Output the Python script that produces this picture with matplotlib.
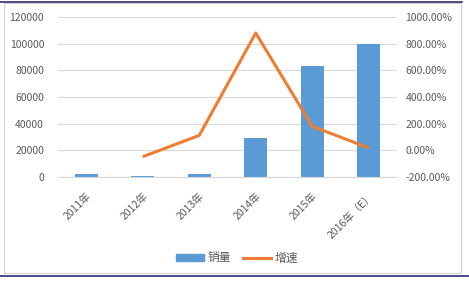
import matplotlib
matplotlib.use("Agg")
from matplotlib import pyplot as plt
from matplotlib.lines import Line2D
from matplotlib.patches import Patch, Rectangle

plt.rcParams['font.family'] = ['Noto Sans CJK SC', 'DejaVu Sans']

years = ['2011年', '2012年', '2013年', '2014年', '2015年', '2016年（E）']
sales = [2200, 1000, 2500, 29500, 83300, 100000]
growth = [None, -48, 112, 880, 180, 18]

bar_color = '#5B9BD5'
line_color = '#ED7D31'
text_color = '#595959'
grid_color = '#D9D9D9'

fig = plt.figure(figsize=(4.69, 2.83), dpi=100)
ax = fig.add_axes([58 / 469, 1 - 177 / 283, 339 / 469, 160 / 283])
ax2 = ax.twinx()

x = list(range(len(years)))
ax.bar(x, sales, width=0.41, color=bar_color, zorder=2)
ax.set_ylim(0, 120000)
ax.set_yticks(range(0, 120001, 20000))
ax.set_xlim(-0.5, len(years) - 0.5)
ax.grid(axis='y', color=grid_color, linewidth=0.8, zorder=0)
ax.set_axisbelow(True)

gx = [i for i, g in zip(x, growth) if g is not None]
gy = [g for g in growth if g is not None]
ax2.plot(gx, gy, color=line_color, linewidth=2.2, solid_capstyle='butt', zorder=3)
ax2.set_ylim(-200, 1000)
ax2.set_yticks(range(-200, 1001, 200))
ax2.set_yticklabels(['%.2f%%' % v for v in range(-200, 1001, 200)])

for a in (ax, ax2):
    for s in a.spines.values():
        s.set_visible(False)
    a.tick_params(length=0, labelsize=7.5, colors=text_color)
ax.spines['bottom'].set_visible(True)
ax.spines['bottom'].set_color(grid_color)
ax.tick_params(axis='y', pad=10)
ax2.tick_params(axis='y', pad=6)

ax.set_xticks(x)
ax.set_xticklabels(years, rotation=45, ha='right', va='top', rotation_mode='anchor')
ax.tick_params(axis='x', pad=10)

handles = [Patch(color=bar_color, label='销量'),
           Line2D([0], [0], color=line_color, linewidth=2.2, label='增速')]
fig.legend(handles=handles, loc='center', bbox_to_anchor=(237 / 469, 1 - 258 / 283),
           ncol=2, frameon=False, fontsize=8.5, labelcolor=text_color,
           handlelength=2.4, handleheight=0.6, columnspacing=1.0, handletextpad=0.3)

# chart frame and page rules
fig.patches.append(Rectangle((4 / 469, 1 - 273 / 283), 457 / 469, 270 / 283,
                             transform=fig.transFigure, fill=False,
                             edgecolor='#D0D0D0', linewidth=0.8))
fig.add_artist(Line2D([0, 462 / 469], [1 - 1.5 / 283] * 2, transform=fig.transFigure,
                      color='#2E2E6E', linewidth=1.2))
fig.add_artist(Line2D([0, 1], [1 - 276 / 283] * 2, transform=fig.transFigure,
                      color='#2E2E6E', linewidth=1.2))

fig.savefig('out.png', dpi=100)
